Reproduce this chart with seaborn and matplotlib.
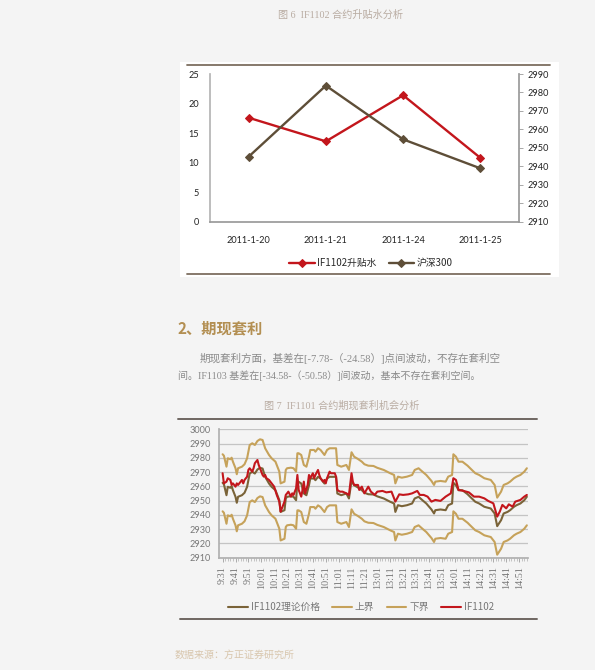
import matplotlib
matplotlib.use('Agg')
import matplotlib.pyplot as plt
from matplotlib.lines import Line2D
from matplotlib.patches import Rectangle
import seaborn as sns

W, H = 595, 670

# ── Chart 1: IF1102 premium vs CSI300 ─────────────────────────────────────────
dates = ['2011-1-20', '2011-1-21', '2011-1-24', '2011-1-25']
premium_if1102 = [17.6, 13.6, 21.4, 10.8]
hs300 = [2945.2, 2983.7, 2954.6, 2938.9]

# ── Chart 2: intraday arbitrage band (minute index, 0 = 9:31) ─────────────────
tick_labels = ['9:31', '9:41', '9:51', '10:01', '10:11', '10:21', '10:31', '10:41',
               '10:51', '11:01', '11:11', '11:21', '13:01', '13:11', '13:21', '13:31',
               '13:41', '13:51', '14:01', '14:11', '14:21', '14:31', '14:41', '14:51']

band_minute = [0, 1, 3, 4, 6, 7, 8, 10, 11, 12,
               15, 17, 19, 21, 23, 25, 27, 29, 31, 33,
               36, 38, 41, 44, 45, 48, 49, 50, 53, 55,
               57, 58, 59, 61, 63, 65, 67, 68, 71, 72,
               74, 76, 79, 81, 83, 85, 88, 89, 92, 96,
               98, 100, 102, 105, 108, 110, 113, 117, 120, 125,
               130, 133, 134, 136, 139, 143, 147, 149, 152, 155,
               158, 162, 164, 165, 169, 173, 175, 178, 179, 181,
               183, 186, 190, 192, 196, 199, 203, 205, 208, 211,
               213, 216, 218, 221, 223, 226, 228, 231, 234, 236]

upper_bound = [2982.5, 2981.5, 2973.8, 2979.7, 2979.0, 2980.1, 2977.3, 2972.7, 2968.5, 2972.7,
               2973.8, 2975.5, 2979.7, 2989.0, 2990.2, 2989.0, 2991.8, 2993.0, 2992.5, 2986.7,
               2982.0, 2979.7, 2977.3, 2970.3, 2962.1, 2963.3, 2971.5, 2972.7, 2973.1, 2972.7,
               2970.3, 2983.2, 2983.2, 2982.0, 2975.0, 2973.8, 2980.8, 2985.5, 2985.5, 2984.3,
               2986.7, 2985.5, 2982.0, 2985.5, 2986.7, 2986.7, 2986.7, 2975.0, 2973.8, 2975.0,
               2971.5, 2983.9, 2980.8, 2979.2, 2977.3, 2975.5, 2974.5, 2974.3, 2973.0, 2971.5,
               2969.2, 2968.0, 2962.1, 2966.8, 2966.1, 2966.8, 2968.0, 2971.5, 2972.7, 2970.3,
               2968.0, 2963.8, 2961.0, 2963.3, 2963.8, 2963.3, 2966.8, 2968.0, 2982.5, 2980.8,
               2977.3, 2977.3, 2974.5, 2972.7, 2969.2, 2968.0, 2965.7, 2965.2, 2964.5, 2961.0,
               2952.1, 2956.3, 2961.0, 2962.1, 2963.3, 2965.7, 2966.8, 2968.0, 2970.3, 2972.7]

theory_price = [2962.5, 2961.5, 2953.8, 2959.7, 2959.0, 2960.1, 2957.3, 2952.7, 2948.5, 2952.7,
                2953.8, 2955.5, 2959.7, 2969.0, 2970.2, 2969.0, 2971.8, 2973.0, 2972.5, 2966.7,
                2962.0, 2959.7, 2957.3, 2950.3, 2942.1, 2943.3, 2951.5, 2952.7, 2953.1, 2952.7,
                2950.3, 2963.2, 2963.2, 2962.0, 2955.0, 2953.8, 2960.8, 2965.5, 2965.5, 2964.3,
                2966.7, 2965.5, 2962.0, 2965.5, 2966.7, 2966.7, 2966.7, 2955.0, 2953.8, 2955.0,
                2951.5, 2963.9, 2960.8, 2959.2, 2957.3, 2955.5, 2954.5, 2954.3, 2953.0, 2951.5,
                2949.2, 2948.0, 2942.1, 2946.8, 2946.1, 2946.8, 2948.0, 2951.5, 2952.7, 2950.3,
                2948.0, 2943.8, 2941.0, 2943.3, 2943.8, 2943.3, 2946.8, 2948.0, 2962.5, 2960.8,
                2957.3, 2957.3, 2954.5, 2952.7, 2949.2, 2948.0, 2945.7, 2945.2, 2944.5, 2941.0,
                2932.1, 2936.3, 2941.0, 2942.1, 2943.3, 2945.7, 2946.8, 2948.0, 2950.3, 2952.7]

lower_bound = [2942.5, 2941.5, 2933.8, 2939.7, 2939.0, 2940.1, 2937.3, 2932.7, 2928.5, 2932.7,
               2933.8, 2935.5, 2939.7, 2949.0, 2950.2, 2949.0, 2951.8, 2953.0, 2952.5, 2946.7,
               2942.0, 2939.7, 2937.3, 2930.3, 2922.1, 2923.3, 2931.5, 2932.7, 2933.1, 2932.7,
               2930.3, 2943.2, 2943.2, 2942.0, 2935.0, 2933.8, 2940.8, 2945.5, 2945.5, 2944.3,
               2946.7, 2945.5, 2942.0, 2945.5, 2946.7, 2946.7, 2946.7, 2935.0, 2933.8, 2935.0,
               2931.5, 2943.9, 2940.8, 2939.2, 2937.3, 2935.5, 2934.5, 2934.3, 2933.0, 2931.5,
               2929.2, 2928.0, 2922.1, 2926.8, 2926.1, 2926.8, 2928.0, 2931.5, 2932.7, 2930.3,
               2928.0, 2923.8, 2921.0, 2923.3, 2923.8, 2923.3, 2926.8, 2928.0, 2942.5, 2940.8,
               2937.3, 2937.3, 2934.5, 2932.7, 2929.2, 2928.0, 2925.7, 2925.2, 2924.5, 2921.0,
               2912.1, 2916.3, 2921.0, 2922.1, 2923.3, 2925.7, 2926.8, 2928.0, 2930.3, 2932.7]

red_minute = [0, 1, 3, 4, 6, 7, 8, 10, 11, 12,
              14, 15, 16, 17, 19, 20, 21, 23, 24, 25,
              27, 28, 29, 31, 32, 33, 34, 36, 37, 40,
              42, 44, 45, 46, 48, 49, 50, 51, 53, 54,
              55, 57, 58, 59, 61, 62, 63, 64, 66, 67,
              68, 70, 71, 72, 74, 75, 76, 78, 79, 80,
              81, 83, 84, 87, 88, 89, 91, 93, 96, 98,
              100, 101, 102, 105, 106, 108, 110, 113, 115, 118,
              120, 124, 127, 131, 134, 137, 140, 144, 147, 151,
              153, 156, 159, 162, 165, 169, 173, 177, 179, 181,
              183, 187, 191, 195, 199, 203, 206, 210, 213, 215,
              217, 220, 222, 225, 227, 231, 234, 236]

if1102_price = [2969.2, 2962.1, 2963.3, 2965.7, 2964.5, 2961.0, 2962.1, 2959.8, 2962.1, 2961.0,
                2963.3, 2964.5, 2962.1, 2964.5, 2966.8, 2971.5, 2972.7, 2970.3, 2972.7, 2976.2,
                2978.5, 2975.0, 2972.7, 2968.0, 2966.8, 2968.0, 2965.7, 2964.5, 2963.3, 2959.8,
                2954.0, 2949.3, 2942.3, 2944.6, 2949.3, 2954.0, 2955.1, 2956.3, 2952.8, 2955.1,
                2954.0, 2958.6, 2968.0, 2957.5, 2952.8, 2957.5, 2963.3, 2955.1, 2961.0, 2968.0,
                2965.7, 2969.2, 2965.7, 2968.0, 2971.5, 2968.0, 2965.7, 2963.3, 2964.5, 2962.1,
                2965.7, 2970.3, 2969.2, 2969.2, 2966.8, 2957.5, 2956.3, 2956.3, 2955.1, 2954.0,
                2969.2, 2963.3, 2961.0, 2961.0, 2957.5, 2959.8, 2955.1, 2959.8, 2956.3, 2954.0,
                2956.3, 2956.8, 2955.8, 2956.3, 2949.3, 2954.4, 2954.0, 2954.4, 2955.1, 2956.8,
                2954.0, 2954.0, 2952.8, 2949.3, 2950.5, 2949.8, 2952.8, 2955.1, 2965.7, 2964.5,
                2957.5, 2956.8, 2955.8, 2952.8, 2952.8, 2951.6, 2949.8, 2948.1, 2938.8, 2942.3,
                2947.0, 2944.6, 2947.4, 2945.8, 2949.3, 2950.5, 2952.8, 2954.0]

RED = '#c3161c'
BROWN = '#5e4e38'
THEORY = '#7a6338'
GOLD = '#c6a25a'
CJK = ['Noto Sans CJK SC', 'DejaVu Sans']
SERIF_CJK = ['Liberation Serif', 'Noto Sans CJK SC']


def fx(x):
    return x / W


def fy(y):
    return 1 - y / H


def px_axes(fig, x0, y0, x1, y1):
    return fig.add_axes([fx(x0), fy(y1), (x1 - x0) / W, (y1 - y0) / H])


def hline(fig, x0, x1, y, color, lw):
    fig.add_artist(Line2D([fx(x0), fx(x1)], [fy(y), fy(y)], color=color, lw=lw,
                          transform=fig.transFigure))


sns.set_theme(style='white')
plt.rcParams['font.family'] = CJK

fig = plt.figure(figsize=(W / 100, H / 100), dpi=100, facecolor='#f4f4f4')

# ── titles / text ─────────────────────────────────────────────────────────────
fig.text(fx(341), fy(15), '图 6  IF1102 合约升贴水分析', ha='center', va='center',
         fontsize=7.3, color='#b9aca2', family=SERIF_CJK)
fig.text(fx(178), fy(328), '2、期现套利', ha='left', va='center',
         fontsize=11, fontweight='bold', color='#b38f52')
fig.text(fx(200), fy(358), '期现套利方面，基差在[-7.78-（-24.58）]点间波动，不存在套利空',
         ha='left', va='center', fontsize=7.6, color='#8a8a8a', family=SERIF_CJK)
fig.text(fx(178), fy(376), '间。IF1103 基差在[-34.58-（-50.58）]间波动，基本不存在套利空间。',
         ha='left', va='center', fontsize=7.2, color='#8a8a8a', family=SERIF_CJK)
fig.text(fx(342), fy(406), '图 7  IF1101 合约期现套利机会分析', ha='center', va='center',
         fontsize=7.3, color='#b9aca2', family=SERIF_CJK)
fig.text(fx(175), fy(655), '数据来源：方正证券研究所', ha='left', va='center',
         fontsize=7.2, color='#d8c6ad', style='italic')

# ── Chart 1 ───────────────────────────────────────────────────────────────────
fig.add_artist(Rectangle((fx(180), fy(277)), (559 - 180) / W, (277 - 62) / H,
                         transform=fig.transFigure, facecolor='white', edgecolor='none',
                         zorder=0))
hline(fig, 187, 550, 65, '#7d6e60', 1.3)
hline(fig, 187, 550, 274, '#7d6e60', 1.3)

ax1 = px_axes(fig, 210, 74, 519, 221.7)
ax1.set_facecolor('none')
ax1r = ax1.twinx()
sns.lineplot(x=dates, y=premium_if1102, ax=ax1, color=RED, lw=1.7, marker='D',
             markersize=4.5, markeredgecolor=RED, label='IF1102升贴水', legend=False)
sns.lineplot(x=dates, y=hs300, ax=ax1r, color=BROWN, lw=1.7, marker='D',
             markersize=4.5, markeredgecolor=BROWN, label='沪深300', legend=False)
ax1.set_xlim(-0.5, 3.5)
ax1.set_ylim(0, 25)
ax1.set_yticks(range(0, 26, 5))
ax1r.set_ylim(2910, 2990)
ax1r.set_yticks(range(2910, 2991, 10))
for a in (ax1, ax1r):
    for s in a.spines.values():
        s.set_visible(False)
ax1.spines['left'].set_visible(True)
ax1.spines['left'].set_color('#b5b5b5')
ax1.spines['bottom'].set_visible(True)
ax1.spines['bottom'].set_color('#9a9a9a')
ax1r.spines['right'].set_visible(True)
ax1r.spines['right'].set_color('#9a9a9a')
ax1.tick_params(axis='x', length=0, pad=10, labelsize=6.6, labelcolor='#222222')
ax1.tick_params(axis='y', length=0, pad=8, labelsize=6.6, labelcolor='#222222')
ax1r.tick_params(axis='y', length=3, width=0.6, color='#9a9a9a', direction='out',
                 pad=3, labelsize=6.6, labelcolor='#222222')
ax1.set_xlabel('')
ax1.set_ylabel('')
ax1r.set_ylabel('')
for lab in ax1.get_xticklabels() + ax1.get_yticklabels() + ax1r.get_yticklabels():
    lab.set_fontfamily('Lato')

h1, l1 = ax1.get_legend_handles_labels()
h2, l2 = ax1r.get_legend_handles_labels()
leg1 = ax1r.legend(h1 + h2, l1 + l2, loc='center', ncol=2, frameon=False,
                   bbox_to_anchor=(fx(371), fy(263)), bbox_transform=fig.transFigure,
                   fontsize=7, handlelength=2.6, columnspacing=1.2, handletextpad=0.3)
for t in leg1.get_texts():
    t.set_color('#2a2a2a')

# ── Chart 2 ───────────────────────────────────────────────────────────────────
hline(fig, 178, 537, 419, '#6f6761', 1.4)
hline(fig, 180, 537, 619, '#6f6761', 1.4)

ax2 = px_axes(fig, 219, 429.3, 527.5, 557.7)
ax2.set_facecolor('none')
sns.lineplot(x=band_minute, y=upper_bound, ax=ax2, color=GOLD, lw=1.5, label='上界', legend=False)
sns.lineplot(x=band_minute, y=lower_bound, ax=ax2, color=GOLD, lw=1.5, label='下界', legend=False)
sns.lineplot(x=band_minute, y=theory_price, ax=ax2, color=THEORY, lw=1.5,
             label='IF1102理论价格', legend=False)
sns.lineplot(x=red_minute, y=if1102_price, ax=ax2, color=RED, lw=1.5, label='IF1102',
             legend=False)
ax2.set_xlim(-2.8, 236.5)
ax2.set_ylim(2910, 3000)
ax2.set_yticks(range(2910, 3001, 10))
ax2.yaxis.grid(True, color='#c4c4c4', lw=0.9)
ax2.set_axisbelow(True)
ax2.set_xticks(range(0, 10 * len(tick_labels), 10))
ax2.set_xticklabels(tick_labels, rotation=90, fontfamily='Liberation Serif')
ax2.set_xticks(range(0, 237, 2), minor=True)
for s in ('top', 'right'):
    ax2.spines[s].set_visible(False)
ax2.spines['left'].set_color('#b0b0b0')
ax2.spines['bottom'].set_color('#b0b0b0')
ax2.tick_params(axis='x', which='major', length=3, width=0.6, color='#a0a0a0', direction='out',
                pad=3, labelsize=7.2, labelcolor='#777777', bottom=True)
ax2.tick_params(axis='x', which='minor', length=2, width=0.5, color='#b0b0b0', direction='out',
                bottom=True)
ax2.tick_params(axis='y', length=0, pad=6, labelsize=6.6, labelcolor='#777777')
for lab in ax2.get_yticklabels():
    lab.set_fontfamily('Lato')
ax2.set_xlabel('')
ax2.set_ylabel('')

handles, labels = ax2.get_legend_handles_labels()
order = [labels.index(k) for k in ['IF1102理论价格', '上界', '下界', 'IF1102']]
leg2 = ax2.legend([handles[i] for i in order], [labels[i] for i in order], loc='center',
                  ncol=4, frameon=False, bbox_to_anchor=(fx(361), fy(607)),
                  bbox_transform=fig.transFigure, fontsize=7, handlelength=2.0,
                  columnspacing=1.3, handletextpad=0.3)
for t in leg2.get_texts():
    t.set_color('#777777')

fig.savefig('out.png', dpi=100, facecolor=fig.get_facecolor())
